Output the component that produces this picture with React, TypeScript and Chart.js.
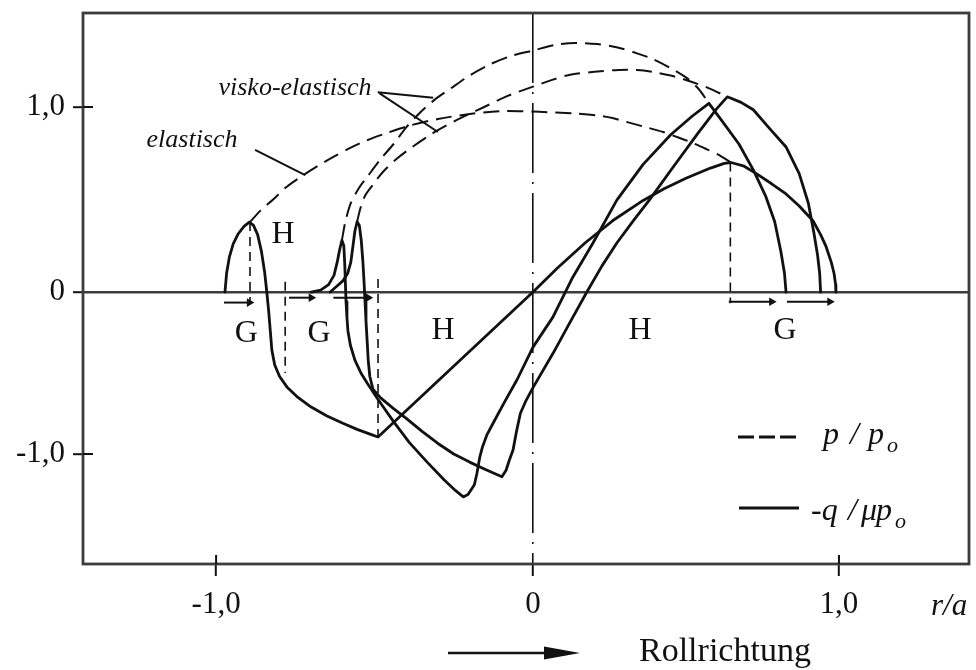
import React, { useEffect, useRef } from 'react';
import { Chart, LinearScale, registerables } from 'chart.js';

type Pt = [number, number];

// Axis ticks (r/a and normalised stress)
const xTicks = [-1, 0, 1];
const yTicks = [-1, 0, 1];

// p/po, elastic contact
const elasticPressure: Pt[] = [
  [-0.893, 0.378], [-0.86, 0.44], [-0.82, 0.5], [-0.78, 0.565], [-0.735, 0.62], [-0.68, 0.68],
  [-0.63, 0.73], [-0.575, 0.78], [-0.524, 0.82], [-0.46, 0.86], [-0.388, 0.9], [-0.3, 0.935],
  [-0.2, 0.962], [-0.1, 0.978], [0, 0.975], [0.075, 0.97], [0.14, 0.965], [0.206, 0.955],
  [0.26, 0.94], [0.304, 0.92], [0.36, 0.895], [0.425, 0.865], [0.475, 0.835], [0.523, 0.805],
  [0.57, 0.77], [0.608, 0.74], [0.647, 0.7],
];

// p/po, visco-elastic contact (higher pressure peak)
const viskoPressureA: Pt[] = [
  [-0.603, 0.28], [-0.592, 0.38], [-0.575, 0.48], [-0.55, 0.56], [-0.524, 0.62], [-0.48, 0.72],
  [-0.44, 0.8], [-0.4, 0.89], [-0.356, 0.97], [-0.31, 1.04], [-0.26, 1.1], [-0.2, 1.17],
  [-0.136, 1.23], [-0.07, 1.275], [0, 1.305], [0.07, 1.335], [0.14, 1.346], [0.21, 1.34],
  [0.28, 1.32], [0.34, 1.29], [0.39, 1.26], [0.45, 1.21], [0.5, 1.16], [0.54, 1.1], [0.575, 1.02],
];

// p/po, visco-elastic contact (lower pressure peak)
const viskoPressureB: Pt[] = [
  [-0.555, 0.38], [-0.545, 0.45], [-0.53, 0.52], [-0.505, 0.58], [-0.473, 0.65], [-0.43, 0.72],
  [-0.38, 0.785], [-0.315, 0.86], [-0.24, 0.93], [-0.154, 1.0], [-0.08, 1.06], [0, 1.11],
  [0.06, 1.145], [0.118, 1.173], [0.2, 1.19], [0.28, 1.2], [0.34, 1.2], [0.39, 1.19],
  [0.45, 1.17], [0.5, 1.146], [0.57, 1.105], [0.635, 1.055],
];

// -q/(mu po), elastic contact
const elasticShear: Pt[] = [
  [-0.972, 0], [-0.967, 0.1], [-0.958, 0.19], [-0.946, 0.26], [-0.93, 0.315], [-0.912, 0.355],
  [-0.895, 0.378], [-0.882, 0.36], [-0.869, 0.31], [-0.857, 0.22], [-0.847, 0.11], [-0.84, 0],
  [-0.834, -0.12], [-0.829, -0.24], [-0.824, -0.36], [-0.815, -0.45], [-0.8, -0.52], [-0.775, -0.59],
  [-0.745, -0.645], [-0.7, -0.71], [-0.65, -0.765], [-0.6, -0.81], [-0.555, -0.848], [-0.51, -0.88],
  [-0.489, -0.895], [0, 0], [0.08, 0.13], [0.17, 0.265], [0.26, 0.385], [0.36, 0.495], [0.43, 0.56],
  [0.5, 0.615], [0.58, 0.67], [0.625, 0.695], [0.647, 0.7], [0.69, 0.68], [0.73, 0.64], [0.78, 0.585],
  [0.827, 0.53], [0.87, 0.465], [0.915, 0.385], [0.94, 0.31], [0.958, 0.245], [0.975, 0.16],
  [0.984, 0.1], [0.989, 0.04], [0.99, 0],
];

// -q/(mu po), visco-elastic contact A
const viskoShearA: Pt[] = [
  [-0.7, 0], [-0.67, 0.01], [-0.645, 0.04], [-0.628, 0.09], [-0.618, 0.16], [-0.61, 0.23],
  [-0.603, 0.28], [-0.597, 0.25], [-0.594, 0.15], [-0.592, 0.05], [-0.59, -0.06], [-0.587, -0.16],
  [-0.584, -0.24], [-0.576, -0.33], [-0.562, -0.42], [-0.543, -0.5], [-0.524, -0.56], [-0.49, -0.66],
  [-0.44, -0.8], [-0.39, -0.93], [-0.334, -1.05], [-0.28, -1.16], [-0.245, -1.225], [-0.22, -1.265],
  [-0.205, -1.25], [-0.185, -1.19], [-0.177, -1.12], [-0.168, -1.02], [-0.16, -0.96], [-0.145, -0.88],
  [-0.126, -0.81], [-0.09, -0.68], [-0.05, -0.54], [0, -0.34], [0.065, -0.155], [0.13, 0.08],
  [0.196, 0.265], [0.274, 0.497], [0.36, 0.69], [0.45, 0.85], [0.52, 0.95], [0.575, 1.02],
  [0.62, 0.92], [0.673, 0.8], [0.72, 0.66], [0.76, 0.52], [0.79, 0.38], [0.81, 0.22],
  [0.822, 0.1], [0.827, 0],
];

// -q/(mu po), visco-elastic contact B
const viskoShearB: Pt[] = [
  [-0.64, 0], [-0.62, 0.03], [-0.6, 0.06], [-0.585, 0.1], [-0.575, 0.16], [-0.568, 0.25],
  [-0.562, 0.33], [-0.555, 0.38], [-0.548, 0.36], [-0.542, 0.28], [-0.537, 0.17], [-0.533, 0.05],
  [-0.53, -0.06], [-0.527, -0.18], [-0.524, -0.28], [-0.52, -0.42], [-0.515, -0.52], [-0.505, -0.6],
  [-0.48, -0.655], [-0.44, -0.72], [-0.4, -0.78], [-0.35, -0.86], [-0.3, -0.935], [-0.25, -1.0],
  [-0.2, -1.05], [-0.15, -1.095], [-0.098, -1.14], [-0.085, -1.1], [-0.075, -1.04], [-0.063, -0.975],
  [-0.052, -0.86], [-0.04, -0.75], [-0.022, -0.67], [0, -0.59], [0.065, -0.38], [0.12, -0.19],
  [0.176, 0], [0.225, 0.14], [0.274, 0.265], [0.33, 0.39], [0.38, 0.497], [0.46, 0.68],
  [0.54, 0.86], [0.6, 0.99], [0.635, 1.055], [0.68, 1.025], [0.72, 0.985], [0.77, 0.89],
  [0.827, 0.784], [0.87, 0.64], [0.9, 0.48], [0.918, 0.32], [0.93, 0.2], [0.937, 0.1], [0.94, 0],
];

// Stick/slip boundaries: [r/a, upper end, lower end]
const zoneBounds: [number, number, number][] = [
  [-0.893, 0.378, -0.068],
  [-0.782, 0.055, -0.5],
  [-0.489, 0.07, -0.93],
  [0.645, 0.7, -0.07],
];

// Slip direction arrows on the axis: [from, to, level]
const slipArrows: [number, number, number][] = [
  [-0.975, -0.895, -0.065],
  [-0.77, -0.7, -0.035],
  [-0.63, -0.52, -0.035],
  [0.64, 0.78, -0.06],
  [0.83, 0.97, -0.06],
];

// Zone letters: H = Haften, G = Gleiten
const zoneLabels: { text: string; x: number; y: number }[] = [
  { text: 'H', x: -0.789, y: 0.31 },
  { text: 'G', x: -0.905, y: -0.255 },
  { text: 'G', x: -0.675, y: -0.255 },
  { text: 'H', x: -0.284, y: -0.24 },
  { text: 'H', x: 0.35, y: -0.24 },
  { text: 'G', x: 0.824, y: -0.24 },
];

// Curve names with leader lines [x1, y1, x2, y2]
const curveNotes: { text: string; x: number; y: number; leaders: [number, number, number, number][] }[] = [
  { text: 'visko-elastisch', x: -0.751, y: 1.1, leaders: [[-0.49, 1.08, -0.315, 1.05], [-0.485, 1.075, -0.3, 0.865]] },
  { text: 'elastisch', x: -1.076, y: 0.82, leaders: [[-0.877, 0.768, -0.719, 0.632]] },
];

const SERIF = '"Liberation Serif", "Times New Roman", Times, serif';
const INK = '#111111';
const FRAME = '#3c3c3c';

// Linear scale with separate unit lengths on the two sides of zero
class SplitLinearScale extends LinearScale {
  static id = 'splitLinear';
  getPixelForValue(value: number) {
    if (value === null || value === undefined || Number.isNaN(value)) return NaN;
    const pivot = (this.options as any).pivot ?? 0.5;
    const dec = value < 0
      ? pivot * (value - this.min) / (0 - this.min)
      : pivot + (1 - pivot) * value / this.max;
    return this.getPixelForDecimal(dec);
  }
  getValueForPixel(pixel: number) {
    const pivot = (this.options as any).pivot ?? 0.5;
    const dec = this.getDecimalForPixel(pixel);
    return dec < pivot
      ? this.min + (dec / pivot) * (0 - this.min)
      : ((dec - pivot) / (1 - pivot)) * this.max;
  }
}

Chart.register(...registerables, SplitLinearScale);
Chart.defaults.font.family = SERIF;

const fmt = (v: number) => (v === 0 ? '0' : v.toFixed(1).replace('.', ','));
const toXY = (pts: Pt[]) => pts.map(([x, y]) => ({ x, y }));

const decor = {
  id: 'decor',
  afterDraw(chart: any) {
    const { ctx, chartArea: a } = chart;
    const X = (v: number) => chart.scales.x.getPixelForValue(v);
    const Y = (v: number) => chart.scales.y.getPixelForValue(v);
    ctx.save();

    // frame
    ctx.strokeStyle = FRAME;
    ctx.lineWidth = 2.8;
    ctx.strokeRect(a.left, a.top, a.right - a.left, a.bottom - a.top);

    // inner halves of the ±1 tick marks
    ctx.lineWidth = 2;
    ctx.strokeStyle = INK;
    ctx.beginPath();
    xTicks.filter((v) => v !== 0).forEach((v) => { ctx.moveTo(X(v), a.bottom); ctx.lineTo(X(v), a.bottom - 9); });
    yTicks.filter((v) => v !== 0).forEach((v) => { ctx.moveTo(a.left, Y(v)); ctx.lineTo(a.left + 10, Y(v)); });
    ctx.stroke();

    // zone letters
    ctx.fillStyle = INK;
    ctx.font = `32px ${SERIF}`;
    ctx.textAlign = 'center';
    ctx.textBaseline = 'middle';
    zoneLabels.forEach((l) => ctx.fillText(l.text, X(l.x), Y(l.y)));

    // curve names
    ctx.font = `italic 26px ${SERIF}`;
    ctx.lineWidth = 2;
    curveNotes.forEach((n) => {
      ctx.fillText(n.text, X(n.x), Y(n.y));
      ctx.beginPath();
      n.leaders.forEach(([x1, y1, x2, y2]) => { ctx.moveTo(X(x1), Y(y1)); ctx.lineTo(X(x2), Y(y2)); });
      ctx.stroke();
    });

    // legend
    ctx.lineWidth = 3;
    ctx.setLineDash([16, 5]);
    ctx.beginPath(); ctx.moveTo(738, 437); ctx.lineTo(801, 437); ctx.stroke();
    ctx.setLineDash([]);
    ctx.beginPath(); ctx.moveTo(739, 508); ctx.lineTo(799, 508); ctx.stroke();

    ctx.textAlign = 'left';
    ctx.textBaseline = 'alphabetic';
    ctx.font = `italic 32px ${SERIF}`;
    ctx.fillText('p', 823, 444);
    ctx.fillText('/', 850, 444);
    ctx.fillText('p', 868, 444);
    ctx.fillText('-q', 811, 520);
    ctx.fillText('/', 848, 520);
    ctx.fillText('\u03bc', 861, 520);
    ctx.fillText('p', 876, 520);
    ctx.font = `italic 22px ${SERIF}`;
    ctx.fillText('o', 887, 452);
    ctx.fillText('o', 895, 528);

    // axis name
    ctx.font = `italic 31px ${SERIF}`;
    ctx.fillText('r/a', 931, 615);

    // rolling direction
    ctx.font = `34px ${SERIF}`;
    ctx.fillText('Rollrichtung', 639, 661);
    ctx.lineWidth = 2.5;
    ctx.beginPath(); ctx.moveTo(448, 653); ctx.lineTo(552, 653); ctx.stroke();
    ctx.beginPath(); ctx.moveTo(544, 646.5); ctx.lineTo(580, 653); ctx.lineTo(544, 659.5); ctx.closePath(); ctx.fill();

    ctx.restore();
  },
};

const dashedStyle = { borderColor: INK, borderWidth: 2, borderDash: [16, 8], tension: 0.3 };
const solidStyle = { borderColor: INK, borderWidth: 2.8, tension: 0, borderJoinStyle: 'round', borderCapStyle: 'round' };

export default function App() {
  const ref = useRef<HTMLCanvasElement | null>(null);

  useEffect(() => {
    if (!ref.current) return;
    const common = { showLine: true, pointRadius: 0, pointHoverRadius: 0, fill: false };
    const datasets: any[] = [
      { label: 'p/po elastisch', data: toXY(elasticPressure), ...common, ...dashedStyle },
      { label: 'p/po visko-elastisch A', data: toXY(viskoPressureA), ...common, ...dashedStyle },
      { label: 'p/po visko-elastisch B', data: toXY(viskoPressureB), ...common, ...dashedStyle },
      { label: '-q/μpo elastisch', data: toXY(elasticShear), ...common, ...solidStyle },
      { label: '-q/μpo visko-elastisch A', data: toXY(viskoShearA), ...common, ...solidStyle },
      { label: '-q/μpo visko-elastisch B', data: toXY(viskoShearB), ...common, ...solidStyle },
      ...zoneBounds.map(([x, top, bottom]) => ({
        label: 'Zonengrenze', data: [{ x, y: top }, { x, y: bottom }], ...common,
        borderColor: INK, borderWidth: 1.6, borderDash: [9, 6],
      })),
      ...slipArrows.map(([from, to, y]) => ({
        label: 'Gleitrichtung', data: [{ x: from, y }, { x: to, y }], showLine: true, fill: false,
        borderColor: INK, borderWidth: 2,
        pointRadius: (c: any) => (c.dataIndex === 1 ? 5 : 0),
        pointStyle: 'triangle', rotation: to > from ? 90 : -90,
        pointBackgroundColor: INK, pointBorderWidth: 0,
      })),
    ];

    const chart = new Chart(ref.current, {
      type: 'scatter',
      data: { datasets },
      options: {
        responsive: false,
        animation: false,
        devicePixelRatio: 1,
        events: [],
        layout: { padding: { left: 0, top: 13, right: 7, bottom: 0 } },
        plugins: { legend: { display: false }, tooltip: { enabled: false } },
        scales: {
          x: {
            type: 'splitLinear',
            min: -1.42,
            max: 1.425,
            pivot: 0.5079,
            afterBuildTicks: (s: any) => { s.ticks = xTicks.map((value) => ({ value })); },
            afterFit: (s: any) => { s.height = 106; s.paddingLeft = 0; s.paddingRight = 0; },
            border: { display: false, dash: [70, 9, 2, 9] },
            grid: {
              color: (c: any) => (c.tick && c.tick.value === 0 ? INK : 'rgba(0,0,0,0)'),
              lineWidth: 1.6,
              drawTicks: true,
              tickLength: 12,
              tickWidth: 2,
              tickColor: INK,
            },
            ticks: {
              color: INK,
              font: { family: SERIF, size: 31 },
              padding: 10,
              maxRotation: 0,
              autoSkip: false,
              callback: (v: any) => fmt(Number(v)),
            },
          },
          y: {
            type: 'splitLinear',
            min: -1.679,
            max: 1.508,
            pivot: 0.4936,
            afterBuildTicks: (s: any) => { s.ticks = yTicks.map((value) => ({ value })); },
            afterFit: (s: any) => { s.width = 83; s.paddingTop = 0; s.paddingBottom = 0; },
            border: { display: false },
            grid: {
              color: (c: any) => (c.tick && c.tick.value === 0 ? FRAME : 'rgba(0,0,0,0)'),
              lineWidth: 2.4,
              drawTicks: true,
              tickLength: 10,
              tickWidth: 2,
              tickColor: INK,
            },
            ticks: {
              color: INK,
              font: { family: SERIF, size: 31 },
              padding: 8,
              autoSkip: false,
              callback: (v: any) => fmt(Number(v)),
            },
          },
        },
      } as any,
      plugins: [decor],
    });

    return () => chart.destroy();
  }, []);

  return (
    <div style={{ position: 'fixed', left: 0, top: 0, width: 976, height: 670, background: '#fff' }}>
      <canvas ref={ref} width={976} height={670} style={{ display: 'block', width: 976, height: 670 }} />
    </div>
  );
}
